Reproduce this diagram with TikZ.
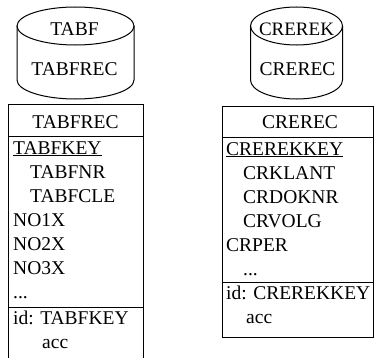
\documentclass[tikz,border=0pt]{standalone}
\usepackage{fontspec}
\setmainfont{Liberation Serif}
\tikzset{
  fld/.style={anchor=base west, inner sep=0pt, font=\fontsize{19.5}{24}\selectfont},
  hdr/.style={anchor=base, inner sep=0pt, font=\fontsize{19.5}{24}\selectfont},
  wall/.style={line width=1pt}
}
\begin{document}
\begin{tikzpicture}[x=1pt, y=1pt]
    \useasboundingbox (0,0) rectangle (374,357);

    % File TABF
    \draw[wall] (17,331) -- (17,277) arc[start angle=180, end angle=360, x radius=58.5, y radius=19] -- (134,331);
    \draw[wall] (75.5,331) ellipse[x radius=58.5, y radius=19];
    \node[hdr] (tabf) at (74.5,322) {TABF};
    \node[hdr] (tabfrecf) at (74.5,282) {TABFREC};

    % File CREREK
    \draw[wall] (250.5,331) -- (250.5,277) arc[start angle=180, end angle=360, x radius=46, y radius=19] -- (342.5,331);
    \draw[wall] (296.5,331) ellipse[x radius=46, y radius=19];
    \node[hdr, font=\fontsize{19}{24}\selectfont] (crerek) at (296.5,322) {CREREK};
    \node[hdr] (crerecf) at (297.5,282) {CREREC};

    % Record TABFREC (runs off the bottom)
    \draw[wall] (8,-5) -- (8,252.5) -- (143,252.5) -- (143,-5);
    \draw[wall] (8,220.5) -- (143,220.5);
    \draw[wall] (8,50) -- (143,50);
    \node[hdr] (tabfrec) at (75.5,229) {TABFREC};
    \node[fld] (tabfkey) at (13,203) {\underline{TABFKEY}};
    \node[fld] (tabfnr) at (30,179) {TABFNR};
    \node[fld] (tabfcle) at (30,155) {TABFCLE};
    \node[fld] (no1x) at (13,131) {NO1X};
    \node[fld] (no2x) at (13,107) {NO2X};
    \node[fld] (no3x) at (13,83) {NO3X};
    \node[fld] (tabfmore) at (13,59) {...};
    \node[fld] (tabfid) at (13,33) {id: TABFKEY};
    \node[fld] (tabfacc) at (42,9) {acc};

    % Record CREREC
    \draw[wall] (222,20) rectangle (373,251);
    \draw[wall] (222,220) -- (373,220);
    \draw[wall] (222,75) -- (373,75);
    \node[hdr] (crerec) at (300,229) {CREREC};
    \node[fld] (crerekkey) at (226,202) {\underline{CREREKKEY}};
    \node[fld] (crklant) at (243,178) {CRKLANT};
    \node[fld] (crdoknr) at (243,154) {CRDOKNR};
    \node[fld] (crvolg) at (243,130) {CRVOLG};
    \node[fld] (crper) at (226,106) {CRPER};
    \node[fld] (cremore) at (243,82) {...};
    \node[fld] (creid) at (226,58) {id: CREREKKEY};
    \node[fld] (creacc) at (246,34) {acc};
\end{tikzpicture}
\end{document}
